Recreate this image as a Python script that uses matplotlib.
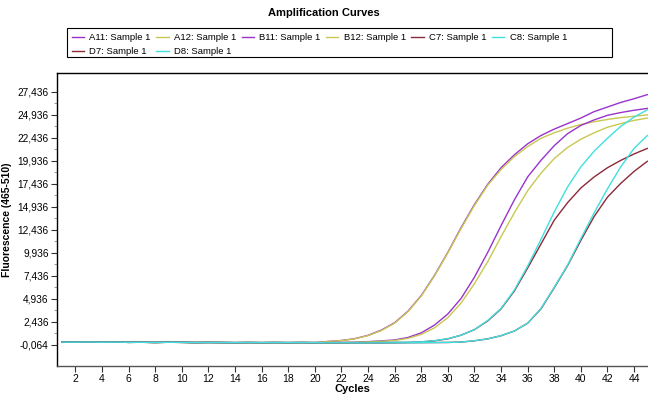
import matplotlib
matplotlib.use("Agg")
import matplotlib.pyplot as plt
from matplotlib.patches import Rectangle

plt.rcParams['font.family'] = ['Liberation Sans', 'DejaVu Sans']

cycles = list(range(1, 46))

base = [0.25, 0.24, 0.26, 0.23, 0.25, 0.22, 0.23, 0.21, 0.23, 0.22,
        0.20, 0.21, 0.20, 0.19, 0.20, 0.19, 0.20, 0.19, 0.20, 0.19]

a11 = base + [0.32, 0.42, 0.62, 0.98, 1.55, 2.35, 3.60, 5.30, 7.50, 10.00,
              12.70, 15.20, 17.40, 19.20, 20.60, 21.80, 22.70, 23.40, 24.00, 24.60,
              25.30, 25.80, 26.30, 26.70, 27.15]
a12 = base + [0.31, 0.41, 0.60, 0.95, 1.50, 2.30, 3.55, 5.25, 7.45, 9.95,
              12.60, 15.10, 17.30, 19.00, 20.40, 21.50, 22.40, 23.00, 23.50, 23.90,
              24.20, 24.45, 24.65, 24.80, 24.95]
b11 = base + [0.20, 0.22, 0.24, 0.30, 0.38, 0.48, 0.75, 1.25, 2.10, 3.30,
              5.00, 7.30, 10.00, 12.90, 15.70, 18.20, 20.00, 21.60, 22.90, 23.80,
              24.40, 24.90, 25.20, 25.45, 25.65]
b12 = base + [0.20, 0.21, 0.23, 0.28, 0.34, 0.42, 0.65, 1.08, 1.80, 2.90,
              4.50, 6.60, 9.00, 11.70, 14.30, 16.70, 18.60, 20.20, 21.40, 22.30,
              23.00, 23.60, 24.00, 24.35, 24.60]
c8 = base + [0.18, 0.19, 0.19, 0.20, 0.21, 0.22, 0.23, 0.28, 0.40, 0.62,
             1.00, 1.60, 2.60, 3.90, 5.90, 8.50, 11.40, 14.40, 17.10, 19.30,
             21.00, 22.40, 23.70, 24.70, 25.50]
c7 = base + [0.18, 0.18, 0.19, 0.20, 0.20, 0.21, 0.22, 0.27, 0.39, 0.60,
             1.00, 1.60, 2.55, 3.85, 5.80, 8.30, 10.90, 13.50, 15.40, 17.00,
             18.20, 19.20, 20.00, 20.70, 21.30]
d8 = base + [0.17, 0.17, 0.17, 0.16, 0.17, 0.17, 0.18, 0.19, 0.20, 0.21,
             0.25, 0.40, 0.60, 0.95, 1.45, 2.30, 3.90, 6.20, 8.60, 11.50,
             14.30, 16.90, 19.30, 21.30, 22.70]
d7 = base + [0.17, 0.16, 0.17, 0.16, 0.16, 0.17, 0.18, 0.19, 0.20, 0.21,
             0.25, 0.39, 0.60, 0.94, 1.45, 2.30, 3.85, 6.15, 8.55, 11.30,
             13.90, 16.00, 17.50, 18.80, 19.90]

series_names = ["A11: Sample 1", "A12: Sample 1", "B11: Sample 1", "B12: Sample 1",
                "C7: Sample 1", "C8: Sample 1", "D7: Sample 1", "D8: Sample 1"]
series_values = [a11, a12, b11, b12, c7, c8, d7, d8]
series_colors = ["#9933cc", "#c8c850", "#9933cc", "#c8c850",
                 "#8b2a3a", "#40e0e0", "#8b2a3a", "#40e0e0"]

ytick_vals = [-0.064 + 2.5 * k for k in range(12)]
ytick_labels = ["-0,064", "2,436", "4,936", "7,436", "9,936", "12,436", "14,936",
                "17,436", "19,936", "22,436", "24,936", "27,436"]
xtick_vals = list(range(2, 45, 2))

W, H = 648, 397
fig = plt.figure(figsize=(W / 100, H / 100), dpi=100)
ax = fig.add_axes([57 / W, 1 - 366 / H, 1 - 57 / W, (366 - 73) / H])

handles = {}
for name, vals, col in zip(series_names, series_values, series_colors):
    h, = ax.plot(cycles, vals, color=col, lw=1.0)
    handles[name] = h

ax.set_xlim(0.62, 45.05)
ax.set_ylim(-2.35, 29.5)
ax.set_xticks(xtick_vals)
ax.set_xticklabels([str(v) for v in xtick_vals], fontsize=7.5)
ax.set_yticks(ytick_vals)
ax.set_yticklabels(ytick_labels, fontsize=7.3)
ax.set_yticks([v + 1.25 for v in ytick_vals[:-1]], minor=True)
ax.tick_params(axis='both', direction='out', length=4, width=0.8, colors='#333333',
               labelcolor='black', pad=2)
ax.tick_params(axis='y', which='minor', length=2, width=0.6, colors='#888888')
ax.spines['right'].set_visible(False)
for s in ['left', 'top']:
    ax.spines[s].set_color('black')
    ax.spines[s].set_linewidth(1.0)
ax.spines['bottom'].set_color('#555555')
ax.spines['bottom'].set_linewidth(1.0)

ax.set_xlabel("Cycles", fontsize=8, fontweight='bold', labelpad=0)
ax.set_ylabel("Fluorescence (465-510)", fontsize=7.5, fontweight='bold')
ax.yaxis.set_label_coords((12 - 57) / (W - 57), 0.5)

fig.text(0.5, 1 - 13 / H, "Amplification Curves", ha='center', va='center',
         fontsize=8, fontweight='bold')

order = ["A11: Sample 1", "D7: Sample 1", "A12: Sample 1", "D8: Sample 1",
         "B11: Sample 1", "B12: Sample 1", "C7: Sample 1", "C8: Sample 1"]
leg = fig.legend([handles[n] for n in order], order, ncol=6,
                 loc='upper left', bbox_to_anchor=(70 / W, 1 - 31 / H),
                 fontsize=6.8, frameon=False,
                 handlelength=1.3, handletextpad=0.55, columnspacing=0.6,
                 borderpad=0.2, labelspacing=0.55, borderaxespad=0)
fig.add_artist(Rectangle((67 / W, 1 - 57 / H), (612 - 67) / W, (57 - 28) / H,
                         transform=fig.transFigure, fill=False,
                         edgecolor='black', linewidth=0.8))

fig.savefig("out.png", dpi=100)
